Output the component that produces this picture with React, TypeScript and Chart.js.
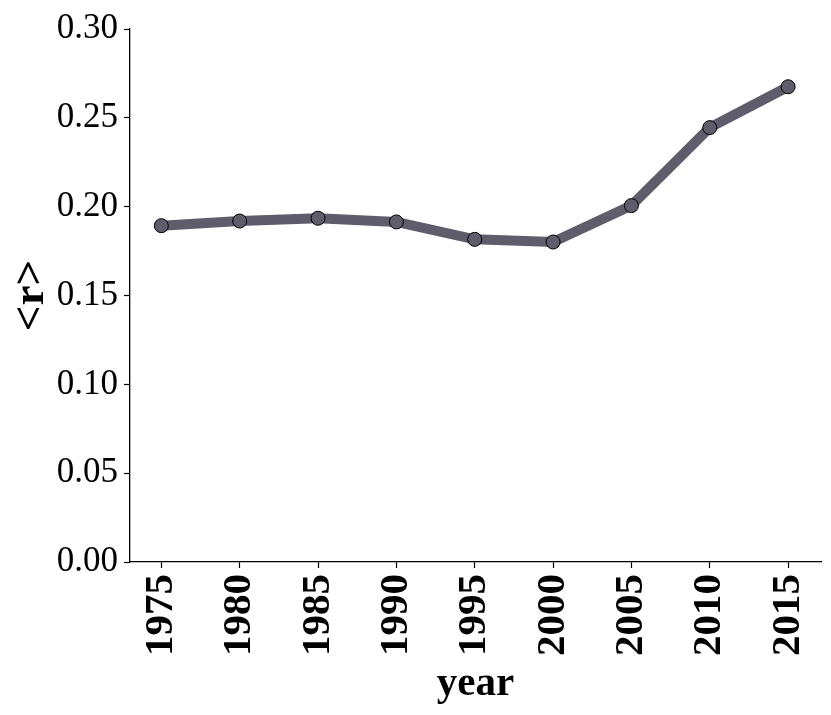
import React, { useEffect, useRef } from "react";
import { Chart, registerables } from "chart.js";

Chart.register(...registerables);

const years = [1975, 1980, 1985, 1990, 1995, 2000, 2005, 2010, 2015];
const meanR = [0.1893, 0.1919, 0.1935, 0.1914, 0.1816, 0.1801, 0.2006, 0.2445, 0.2675];
const yTicks = [0, 0.05, 0.1, 0.15, 0.2, 0.25, 0.3];
const xTitle = "year";
const yTitle = "<r>";

const SERIF = "'Liberation Serif', 'DejaVu Serif', serif";
const LINE = "#5f5c6b";

export default function App() {
  const ref = useRef<HTMLCanvasElement | null>(null);
  useEffect(() => {
    if (!ref.current) return;
    const chart = new Chart(ref.current, {
      type: "line",
      data: {
        datasets: [
          {
            data: years.map((y, i) => ({ x: y, y: meanR[i] })),
            borderColor: LINE,
            borderWidth: 10,
            backgroundColor: LINE,
            pointBackgroundColor: LINE,
            pointBorderColor: "#000000",
            pointBorderWidth: 1,
            pointRadius: 7,
            tension: 0,
          },
        ],
      },
      options: {
        responsive: false,
        animation: false,
        layout: { padding: { top: 29, right: 10, left: 0, bottom: 0 } },
        plugins: { legend: { display: false }, tooltip: { enabled: false } },
        scales: {
          x: {
            type: "linear",
            min: 1973,
            max: 2017.1,
            afterBuildTicks: (s: any) => {
              s.ticks = years.map((v) => ({ value: v }));
            },
            afterFit: (s: any) => {
              s.height = 153;
              s.paddingLeft = 0;
              s.paddingRight = 0;
            },
            grid: { display: true, drawOnChartArea: false, tickLength: 6, tickColor: "#000", tickWidth: 1.2 },
            border: { display: true, color: "#000", width: 1.3 },
            ticks: {
              minRotation: 90,
              maxRotation: 90,
              padding: 6,
              color: "#000",
              font: { family: SERIF, size: 41, weight: "bold" },
              callback: (v: any) => String(v),
            },
            title: {
              display: true,
              text: xTitle,
              color: "#000",
              font: { family: SERIF, size: 41, weight: "bold" },
              padding: { top: 0, bottom: 6 },
            },
          },
          y: {
            min: 0,
            max: 0.3,
            afterBuildTicks: (s: any) => {
              s.ticks = yTicks.map((v) => ({ value: v }));
            },
            afterFit: (s: any) => {
              s.width = 130;
              s.paddingTop = 0;
              s.paddingBottom = 0;
            },
            grid: { display: true, drawOnChartArea: false, tickLength: 6, tickColor: "#000", tickWidth: 1.2 },
            border: { display: true, color: "#000", width: 1.3 },
            ticks: {
              padding: 6,
              color: "#000",
              font: { family: SERIF, size: 35 },
              callback: (v: any) => Number(v).toFixed(2),
            },
            title: {
              display: true,
              text: yTitle,
              color: "#000",
              font: { family: SERIF, size: 45, weight: "bold" },
              padding: { top: 4, bottom: 0 },
            },
          },
        },
      },
    });
    return () => chart.destroy();
  }, []);
  return (
    <div style={{ position: "fixed", left: 0, top: 0, width: 831, height: 715, background: "#fff" }}>
      <canvas ref={ref} width={831} height={715} style={{ width: 831, height: 715 }} />
    </div>
  );
}
